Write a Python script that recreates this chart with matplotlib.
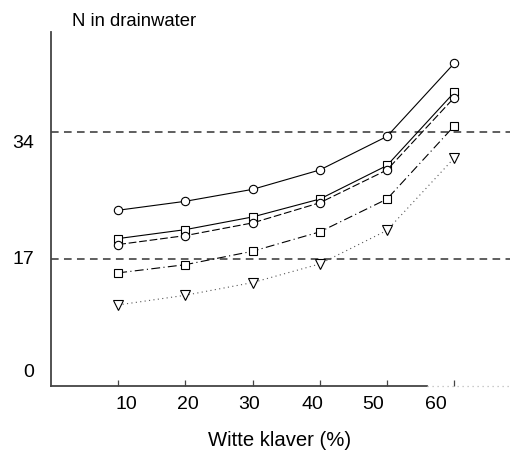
import matplotlib.pyplot as plt
import numpy as np

plt.rcParams['font.family'] = ['Liberation Sans', 'DejaVu Sans']

# percentage white clover
klaver = [10, 20, 30, 40, 50, 60]

# N in drainwater per treatment
serie_a = [23.5, 24.7, 26.3, 28.9, 33.4, 43.2]
serie_b = [19.7, 20.9, 22.6, 25.0, 29.5, 39.3]
serie_c = [18.9, 20.1, 21.8, 24.5, 28.9, 38.6]
serie_d = [15.1, 16.2, 18.0, 20.6, 25.0, 34.8]
serie_e = [10.8, 12.1, 13.8, 16.3, 20.8, 30.5]

grenzen = [34, 17]
ytick_labels = ['34', '17', '0']
xtick_labels = ['10', '20', '30', '40', '50', '60']

fig = plt.figure(figsize=(5.13, 4.53), dpi=100)
ax = fig.add_axes([51/513, 67/453, 459/513, 354/453])

for g in grenzen:
    ax.axhline(g, color='#333333', lw=1.1, ls=(0, (5, 3.5)), zorder=1)

mk = dict(markerfacecolor='white', markeredgecolor='black', markeredgewidth=0.8, zorder=3)
ax.plot(klaver, serie_a, color='black', lw=0.8, ls='-', marker='o', ms=6, **mk)
ax.plot(klaver, serie_b, color='black', lw=0.8, ls='-', marker='s', ms=5.5, **mk)
ax.plot(klaver, serie_c, color='black', lw=0.8, ls=(0, (7, 2.5)), marker='o', ms=6, **mk)
ax.plot(klaver, serie_d, color='black', lw=0.8, ls=(0, (8, 3, 1, 3)), marker='s', ms=5.5, **mk)
ax.plot(klaver, serie_e, color='#555555', lw=0.8, ls=(0, (1, 3)), marker='v', ms=6.5, **mk)

ax.set_xlim(0, 68.3)
ax.set_ylim(-0.07, 47.4)

for s in ['top', 'right', 'bottom']:
    ax.spines[s].set_visible(False)
ax.spines['left'].set_color('#444444')
ax.spines['left'].set_linewidth(1.3)

# bottom axis: solid, then fading dotted
ax.plot([0, 0.82], [0, 0], transform=ax.transAxes, color='#444444', lw=1.3, clip_on=False)
ax.plot([0.82, 1.0], [0, 0], transform=ax.transAxes, color='#bbbbbb', lw=0.9,
        ls=(0, (1, 3)), clip_on=False)

ax.set_xticks(klaver)
ax.set_xticklabels([])
ax.tick_params(axis='x', direction='in', length=4.5, width=0.9, color='#444444')
ax.set_yticks([])

# tick labels (slightly offset, as in the original figure)
xlab_pos = [11.2, 20.4, 29.5, 38.9, 48.0, 57.2]
for xp, t in zip(xlab_pos, xtick_labels):
    ax.text(xp, -2.5, t, ha='center', va='center', fontsize=14, clip_on=False)
ylab_pos = [32.5, 16.9, 1.7]
for yp, t in zip(ylab_pos, ytick_labels):
    ax.text(-0.036, yp, t, ha='right', va='center', fontsize=14,
            transform=ax.get_yaxis_transform(), clip_on=False)

fig.text(72/513, 1 - 21/453, 'N in drainwater', ha='left', va='center', fontsize=13.3)
fig.text(280/513, 1 - 440/453, 'Witte klaver (%)', ha='center', va='center', fontsize=14.6)

fig.savefig('out.png', dpi=100)
